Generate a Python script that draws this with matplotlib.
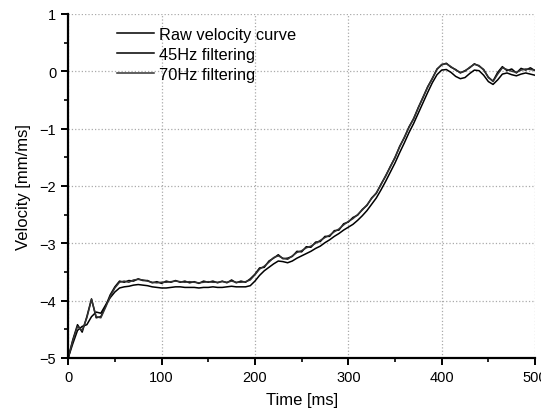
import numpy as np
import matplotlib
matplotlib.use("Agg")
import matplotlib.pyplot as plt
from matplotlib.ticker import MultipleLocator

plt.rcParams['font.family'] = ['Liberation Sans', 'DejaVu Sans']

# time axis, one sample every 5 ms
time_ms = np.arange(0, 505, 5)

raw_curve = [
    -5.00, -4.68, -4.42, -4.55, -4.28, -3.97, -4.30, -4.28, -4.10, -3.90,
    -3.76, -3.66, -3.68, -3.65, -3.66, -3.62, -3.65, -3.65, -3.69, -3.67,
    -3.70, -3.66, -3.68, -3.65, -3.68, -3.66, -3.69, -3.67, -3.70, -3.66,
    -3.68, -3.66, -3.69, -3.66, -3.69, -3.64, -3.69, -3.66, -3.68, -3.62,
    -3.54, -3.43, -3.42, -3.31, -3.26, -3.20, -3.27, -3.26, -3.23, -3.14,
    -3.15, -3.06, -3.07, -2.98, -2.97, -2.88, -2.88, -2.78, -2.77, -2.66,
    -2.63, -2.55, -2.51, -2.41, -2.34, -2.21, -2.13, -1.97, -1.83, -1.66,
    -1.51, -1.31, -1.16, -0.97, -0.83, -0.63, -0.46, -0.27, -0.13, 0.04,
    0.11, 0.14, 0.07, 0.03, -0.03, 0.01, 0.06, 0.13, 0.09, 0.03,
    -0.11, -0.17, -0.02, 0.08, 0.01, 0.04, -0.03, 0.05, 0.02, 0.06,
    0.01,
]

filt_45hz = [
    -5.00, -4.75, -4.52, -4.45, -4.42, -4.28, -4.20, -4.22, -4.08, -3.95,
    -3.85, -3.78, -3.76, -3.75, -3.73, -3.72, -3.73, -3.74, -3.76, -3.77,
    -3.78, -3.78, -3.77, -3.76, -3.76, -3.77, -3.77, -3.77, -3.78, -3.77,
    -3.77, -3.76, -3.77, -3.77, -3.76, -3.75, -3.76, -3.76, -3.76, -3.74,
    -3.66, -3.56, -3.48, -3.42, -3.36, -3.31, -3.32, -3.34, -3.31, -3.26,
    -3.22, -3.18, -3.14, -3.09, -3.05, -2.99, -2.94, -2.88, -2.83, -2.77,
    -2.72, -2.67, -2.60, -2.52, -2.43, -2.32, -2.21, -2.07, -1.92, -1.76,
    -1.60, -1.42, -1.25, -1.07, -0.91, -0.73, -0.55, -0.37, -0.20, -0.06,
    0.02, 0.03, -0.02, -0.09, -0.13, -0.11, -0.04, 0.02, 0.01, -0.07,
    -0.18, -0.23, -0.15, -0.05, -0.03, -0.06, -0.08, -0.05, -0.03, -0.05,
    -0.07,
]

filt_70hz = [
    -5.00, -4.70, -4.45, -4.52, -4.30, -3.98, -4.28, -4.30, -4.12, -3.93,
    -3.78, -3.68, -3.66, -3.68, -3.64, -3.63, -3.64, -3.66, -3.68, -3.69,
    -3.68, -3.68, -3.67, -3.66, -3.67, -3.68, -3.67, -3.68, -3.69, -3.68,
    -3.67, -3.68, -3.68, -3.67, -3.68, -3.66, -3.68, -3.68, -3.67, -3.64,
    -3.55, -3.45, -3.40, -3.33, -3.25, -3.22, -3.26, -3.28, -3.22, -3.16,
    -3.13, -3.08, -3.05, -3.00, -2.95, -2.90, -2.86, -2.80, -2.75, -2.68,
    -2.62, -2.57, -2.50, -2.42, -2.33, -2.22, -2.12, -1.98, -1.82, -1.67,
    -1.50, -1.32, -1.15, -0.98, -0.82, -0.64, -0.45, -0.28, -0.12, 0.03,
    0.12, 0.13, 0.08, 0.02, -0.02, 0.00, 0.07, 0.12, 0.10, 0.02,
    -0.10, -0.18, -0.05, 0.06, 0.03, 0.00, -0.02, 0.02, 0.04, 0.03,
    0.02,
]

fig = plt.figure(figsize=(5.41, 4.14), dpi=100)
ax = fig.add_axes([0.126, 0.133, 0.863, 0.831])

ax.plot(time_ms, raw_curve, color='black', lw=1.1, label='Raw velocity curve')
ax.plot(time_ms, filt_45hz, color='black', lw=1.1, label='45Hz filtering')
ax.plot(time_ms, filt_70hz, color='#333333', lw=1.1, label='70Hz filtering')

ax.set_xlim(0, 500)
ax.set_ylim(-5, 1)
ax.xaxis.set_major_locator(MultipleLocator(100))
ax.xaxis.set_minor_locator(MultipleLocator(50))
ax.yaxis.set_major_locator(MultipleLocator(1))
ax.yaxis.set_minor_locator(MultipleLocator(0.5))

ax.grid(True, which='major', linestyle=':', color='#aaaaaa', lw=0.9)
for side in ['top', 'right']:
    ax.spines[side].set_visible(False)
for side in ['left', 'bottom']:
    ax.spines[side].set_linewidth(1.6)

ax.tick_params(which='major', direction='out', length=5, width=1.4, labelsize=10.5)
ax.tick_params(which='minor', direction='out', length=3, width=1.2)

ax.set_xlabel('Time [ms]', fontsize=12, labelpad=6)
ax.set_ylabel('Velocity [mm/ms]', fontsize=12, labelpad=6)

ax.legend(loc='upper left', bbox_to_anchor=(0.073, 1.005), frameon=False,
          fontsize=11.8, handlelength=2.25, handletextpad=0.3, labelspacing=0.3)

fig.savefig('out.png', dpi=100)
